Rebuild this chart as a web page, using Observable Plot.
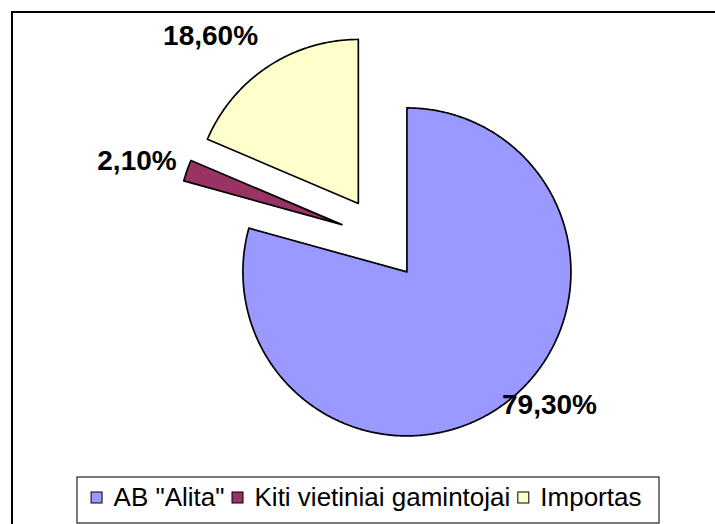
<!DOCTYPE html>
<html>
<head>
<meta charset="utf-8">
<script src="https://cdn.jsdelivr.net/npm/d3@7"></script>
<script src="https://cdn.jsdelivr.net/npm/@observablehq/plot@0.6"></script>
<style>
  html, body { margin: 0; padding: 0; background: #fff; overflow: hidden; }
</style>
</head>
<body>
<div id="chart"></div>
<script>
// ---- data ----
const categories = ['AB "Alita"', 'Kiti vietiniai gamintojai', 'Importas'];
const shares = [79.3, 2.1, 18.6];
const valueLabels = ['79,30%', '2,10%', '18,60%'];
const colors = ['#9999FF', '#993366', '#FFFFCC'];

// ---- layout ----
const W = 715, H = 524;
const center = {x: 381, y: 238};
const radius = 164;
const explode = 42;
const labelLayout = [{rot: -8, dist: 236.5}, {rot: -1.6, dist: 256.6}, {rot: -6.65, dist: 265.2}];
const fontFamily = '"Liberation Sans", Arial, sans-serif';

const rows = categories.map((c, i) => ({cat: c, value: shares[i], label: valueLabels[i], color: colors[i]}));
const arcs = d3.pie().sort(null).value(d => d.value).startAngle(0).endAngle(2 * Math.PI)(rows);

const pt = (cx, cy, a, r) => ({x: cx + r * Math.sin(a), y: cy - r * Math.cos(a)});

const slices = arcs.map((a, i) => {
  const mid = (a.startAngle + a.endAngle) / 2;
  const apex = pt(center.x, center.y, mid, explode);
  const pts = [apex];
  const n = Math.max(4, Math.ceil((a.endAngle - a.startAngle) / (Math.PI / 360)));
  for (let k = 0; k <= n; k++) {
    const ang = a.startAngle + (a.endAngle - a.startAngle) * k / n;
    pts.push(pt(apex.x, apex.y, ang, radius));
  }
  pts.push(apex);
  return {data: a.data, pts};
});

const labelPts = arcs.map((a, i) => {
  const mid = (a.startAngle + a.endAngle) / 2 + labelLayout[i].rot * Math.PI / 180;
  const p = pt(center.x, center.y, mid, labelLayout[i].dist);
  return {...p, text: a.data.label};
});

// legend layout via text measuring
const legendFont = 26;
const ctx = document.createElement("canvas").getContext("2d");
ctx.font = `${legendFont}px "Liberation Sans", Arial, sans-serif`;
const sw = 11, gapSwText = 11, gapItem = 8;
const widths = categories.map(c => ctx.measureText(c).width);
const total = widths.reduce((s, w) => s + sw + gapSwText + w, 0) + gapItem * (categories.length - 1);
const legBox = {x1: 77, x2: 659, y1: 477, y2: 523};
let cursor = 366 - total / 2;
const legendY = 497.5;
const legendItems = categories.map((c, i) => {
  const item = {cat: c, color: colors[i], sx: cursor, tx: cursor + sw + gapSwText};
  cursor += sw + gapSwText + widths[i] + gapItem;
  return item;
});

const marks = [
  Plot.rect([{}], {x1: 12, y1: 12, x2: 730, y2: 540, fill: "white", stroke: "black", strokeWidth: 2}),
  ...slices.map(s => Plot.line(s.pts, {x: "x", y: "y", fill: s.data.color, stroke: "black", strokeWidth: 1.7, curve: "linear"})),
  Plot.text(labelPts, {x: "x", y: "y", text: "text", fontSize: 28, fontWeight: "bold", fill: "black", textAnchor: "middle", lineAnchor: "middle", fontFamily}),
  Plot.rect([legBox], {x1: "x1", x2: "x2", y1: "y1", y2: "y2", fill: "white", stroke: "#222", strokeWidth: 1.2}),
  Plot.rect(legendItems, {x1: d => d.sx, x2: d => d.sx + sw, y1: legendY - sw / 2, y2: legendY + sw / 2, fill: "color", stroke: "black", strokeWidth: 1}),
  Plot.text(legendItems, {x: "tx", y: legendY, text: "cat", fontSize: legendFont, fill: "black", textAnchor: "start", lineAnchor: "middle", fontFamily})
];

const chart = Plot.plot({
  width: W, height: H,
  margin: 0,
  x: {domain: [0, W], range: [0, W], axis: null},
  y: {domain: [0, H], range: [0, H], axis: null},
  color: {type: "identity"},
  style: {background: "white", overflow: "hidden"},
  marks
});
document.getElementById("chart").appendChild(chart);
</script>
</body>
</html>
